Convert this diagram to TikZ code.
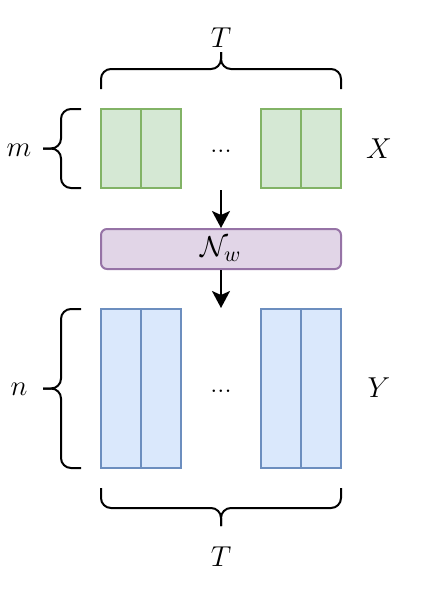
\documentclass[tikz,border=0pt]{standalone}
\usetikzlibrary{positioning,arrows.meta}

\definecolor{xfill}{HTML}{D5E8D4}
\definecolor{xline}{HTML}{82B366}
\definecolor{yfill}{HTML}{DAE8FC}
\definecolor{yline}{HTML}{6C8EBF}
\definecolor{nfill}{HTML}{E1D5E7}
\definecolor{nline}{HTML}{9673A6}

\begin{document}
\begin{tikzpicture}[x=0.5pt, y=-0.5pt,
    font=\fontsize{15}{18}\selectfont,
    xcell/.style={draw=xline, fill=xfill, line width=1pt, minimum width=20pt, minimum height=39.5pt, inner sep=0pt, outer sep=0pt},
    ycell/.style={draw=yline, fill=yfill, line width=1pt, minimum width=20pt, minimum height=79.5pt, inner sep=0pt, outer sep=0pt},
    netbox/.style={draw=nline, fill=nfill, line width=1pt, rounded corners=3pt, minimum width=120pt, minimum height=20pt, inner sep=0pt},
    brc/.style={line width=1pt, rounded corners=5pt},
    arr/.style={line width=1pt, -{Stealth[length=8.5pt, width=9pt, inset=2pt]}},
    dots/.style={font=\fontsize{13}{15}\selectfont, inner sep=0pt}]
    \useasboundingbox (0,0) rectangle (420,596);

    % input columns
    \node[xcell] (x1) at (121,148.5) {};
    \node[xcell, right=0pt of x1] (x2) {};
    \node[xcell] (x3) at (281,148.5) {};
    \node[xcell, right=0pt of x3] (x4) {};
    \node[dots] (xdots) at (221,151) {...};
    \node (xlab) at (379,149) {$X$};

    % network
    \node[netbox] (net) at (221,249) {$\mathcal{N}_w$};

    % output columns
    \node[ycell] (y1) at (121,388.5) {};
    \node[ycell, right=0pt of y1] (y2) {};
    \node[ycell] (y3) at (281,388.5) {};
    \node[ycell, right=0pt of y3] (y4) {};
    \node[dots] (ydots) at (221,391) {...};
    \node (ylab) at (379,388) {$Y$};

    \coordinate (xbot) at (221,190);
    \coordinate (ytop) at (221,308);
    \draw[arr] (xbot) -- (net);
    \draw[arr] (net) -- (ytop);

    % braces
    \draw[brc] (101,89) |- (221,69) -- (221,52);
    \draw[brc] (341,89) |- (221,69) -- (221,52);
    \node (ttop) at (221,38) {$T$};

    \draw[brc] (101,488) |- (221,508) -- (221,526);
    \draw[brc] (341,488) |- (221,508) -- (221,526);
    \node (tbot) at (221,557) {$T$};

    \draw[brc] (81,109) -| (61,148.5) -- (43,148.5);
    \draw[brc] (81,188) -| (61,148.5) -- (43,148.5);
    \node (mlab) at (19,150) {$m$};

    \draw[brc] (81,309) -| (61,388.5) -- (43,388.5);
    \draw[brc] (81,468) -| (61,388.5) -- (43,388.5);
    \node (nlab) at (19,389) {$n$};
\end{tikzpicture}
\end{document}
